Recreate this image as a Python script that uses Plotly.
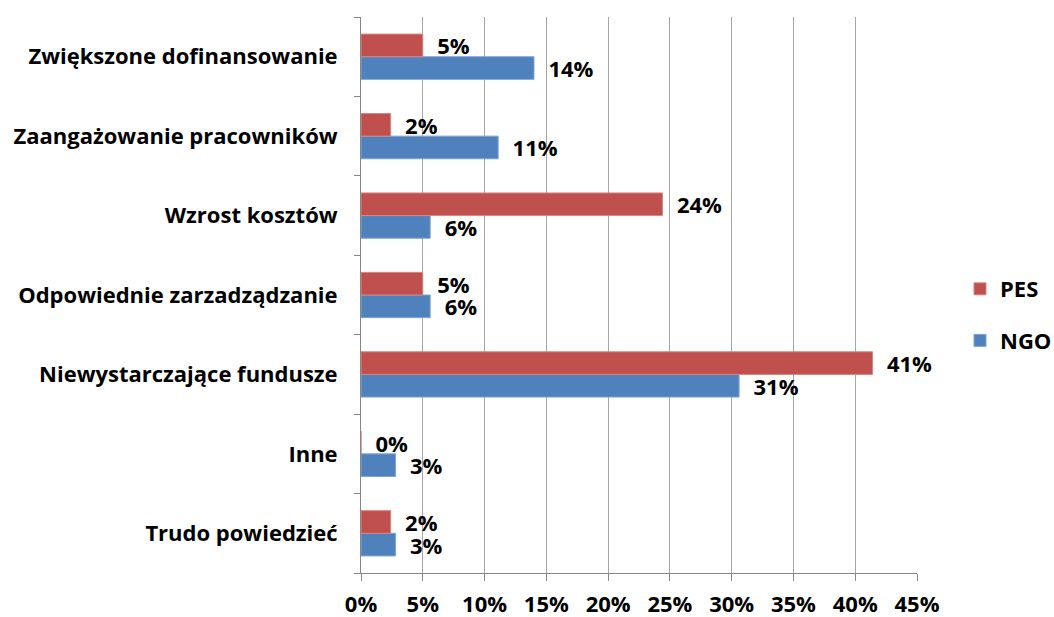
import plotly.graph_objects as go

# Categories listed top to bottom as in the chart
categories = [
    "Zwiększone dofinansowanie",
    "Zaangażowanie pracowników",
    "Wzrost kosztów",
    "Odpowiednie zarzadządzanie",
    "Niewystarczające fundusze",
    "Inne",
    "Trudo powiedzieć",
]

pes_values = [5.0, 2.4, 24.4, 5.0, 41.4, 0.0, 2.4]
ngo_values = [14.0, 11.1, 5.6, 5.6, 30.6, 2.8, 2.8]

x_ticks = [0, 5, 10, 15, 20, 25, 30, 35, 40, 45]
x_tick_labels = ["0%", "5%", "10%", "15%", "20%", "25%", "30%", "35%", "40%", "45%"]

font_family = "Open Sans"
font_size = 22
bold_font = dict(family=font_family, size=font_size, color="#000000", weight="bold")

fig = go.Figure()

# NGO first so it sits below PES inside each group
fig.add_trace(go.Bar(
    y=categories, x=ngo_values, name="NGO", orientation="h",
    marker=dict(color="#4F81BD", line=dict(color="#7FA3D3", width=1)),
    texttemplate="  %{x:.0f}%", textposition="outside",
    textfont=bold_font, cliponaxis=False,
    legendgroup="ngo", legendrank=2,
))

fig.add_trace(go.Bar(
    y=categories, x=pes_values, name="PES", orientation="h",
    marker=dict(color="#C0504D", line=dict(color="#D88582", width=1)),
    texttemplate="  %{x:.0f}%", textposition="outside",
    textfont=bold_font, cliponaxis=False,
    legendgroup="pes", legendrank=1,
))

fig.update_layout(
    width=1054, height=617,
    margin=dict(l=361, r=137, t=17, b=44, autoexpand=False),
    plot_bgcolor="white", paper_bgcolor="white",
    barmode="group", bargap=0.43, bargroupgap=0,
    font=dict(family=font_family, size=font_size, color="#000000"),
    legend=dict(
        xref="container", x=960 / 1054, y=0.464,
        xanchor="left", yanchor="middle",
        traceorder="grouped", tracegroupgap=20,
        font=bold_font, itemwidth=30,
    ),
    uniformtext=dict(minsize=font_size, mode="show"),
)

fig.update_xaxes(
    range=[0, 45], tickvals=x_ticks, ticktext=x_tick_labels,
    showgrid=True, gridcolor="#A6A6A6", gridwidth=1,
    showline=True, linecolor="#868686", linewidth=1,
    ticks="outside", ticklen=7, tickcolor="#868686",
    tickfont=bold_font, ticklabelstandoff=5,
    zeroline=False,
)

fig.update_yaxes(
    categoryorder="array", categoryarray=categories[::-1],
    showline=True, linecolor="#868686", linewidth=1,
    ticks="outside", ticklen=6, tickcolor="#868686", tickson="boundaries",
    tickfont=bold_font, ticklabelstandoff=18,
    showgrid=False,
)

# drop the default 8px body margin so the figure fills the window exactly
fig.write_html(
    "out.html",
    config={"displayModeBar": False},
    post_script="document.body.style.margin = '0';",
)
